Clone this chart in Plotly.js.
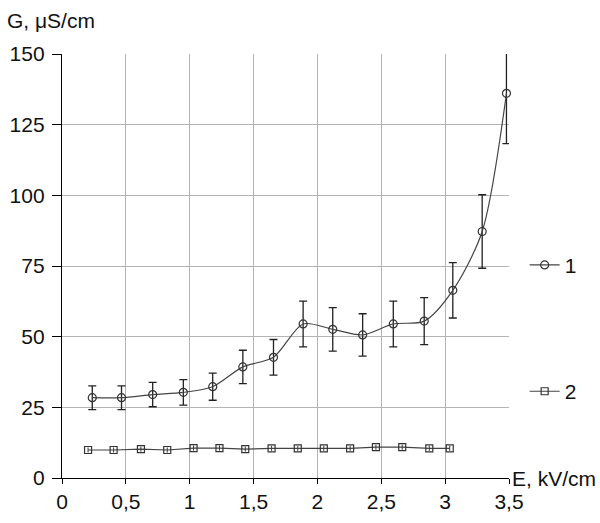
<!DOCTYPE html>
<html>
<head>
<meta charset="utf-8">
<script src="https://cdn.plot.ly/plotly-3.0.1.min.js"></script>
<style>html,body{margin:0;padding:0;background:#fff;}#chart{width:600px;height:523px;}</style>
</head>
<body>
<div id="chart"></div>
<script>
// Series 1 (circles)
const e1 = [0.237, 0.466, 0.71, 0.95, 1.18, 1.416, 1.656, 1.888, 2.12, 2.354, 2.594, 2.836, 3.06, 3.29, 3.48];
const g1 = [28.4, 28.4, 29.5, 30.3, 32.3, 39.3, 42.7, 54.5, 52.6, 50.6, 54.5, 55.5, 66.4, 87.2, 136.1];
const err1 = [4.2, 4.2, 4.3, 4.5, 4.8, 5.9, 6.3, 8.1, 7.7, 7.5, 8.1, 8.3, 9.8, 13.0, 17.8];
// Series 2 (squares)
const e2 = [0.204, 0.404, 0.618, 0.824, 1.03, 1.233, 1.435, 1.641, 1.846, 2.05, 2.256, 2.458, 2.664, 2.876, 3.036];
const g2 = [9.9, 9.9, 10.2, 9.9, 10.6, 10.6, 10.2, 10.5, 10.5, 10.5, 10.5, 10.9, 10.9, 10.5, 10.5];
const err2 = [0.9, 0.9, 0.9, 0.9, 0.9, 0.9, 0.9, 0.9, 0.9, 0.9, 0.9, 0.9, 0.9, 0.9, 0.9];
const seriesNames = ['1', '2'];
const xTicks = [0, 0.5, 1, 1.5, 2, 2.5, 3, 3.5];
const yTicks = [0, 25, 50, 75, 100, 125, 150];

const FONT = 'Liberation Sans, Arial, sans-serif';
const FS = 21;

const traces = [
  {
    x: e1, y: g1, name: seriesNames[0], legendgroup: 'a', cliponaxis: false,
    type: 'scatter', mode: 'lines+markers',
    line: {color: '#444', width: 1.2, shape: 'spline', smoothing: 0.8},
    marker: {symbol: 'circle-open', size: 8, color: '#333', line: {width: 1.2}},
    error_y: {type: 'data', array: err1, visible: true, color: '#222', thickness: 1.3, width: 4}
  },
  {
    x: e2, y: g2, name: seriesNames[1], legendgroup: 'b', cliponaxis: false,
    type: 'scatter', mode: 'lines+markers',
    line: {color: '#444', width: 1.2},
    marker: {symbol: 'square-open', size: 7, color: '#333', line: {width: 1.2}},
    error_y: {type: 'data', array: err2, visible: true, color: '#333', thickness: 1, width: 0}
  }
];

const layout = {
  width: 600, height: 523,
  margin: {l: 62, r: 91, t: 54, b: 45},
  paper_bgcolor: '#fff', plot_bgcolor: '#fff',
  separators: ', ',
  font: {family: FONT, size: FS, color: '#111'},
  showlegend: true,
  legend: {
    x: 1.035, xanchor: 'left', y: 0.55, yanchor: 'top',
    traceorder: 'grouped', tracegroupgap: 96,
    font: {family: FONT, size: FS, color: '#111'},
    bgcolor: 'rgba(0,0,0,0)'
  },
  xaxis: {
    range: [0, 3.5], tickmode: 'array', tickvals: xTicks,
    showgrid: true, gridcolor: '#b4b4b4', gridwidth: 1,
    zeroline: false, showline: true, linecolor: '#000', linewidth: 1.2,
    ticks: 'outside', ticklen: 5, tickcolor: '#000',
    tickfont: {family: FONT, size: FS, color: '#111'},
    fixedrange: true
  },
  yaxis: {
    range: [0, 150], tickmode: 'array', tickvals: yTicks,
    showgrid: true, gridcolor: '#b4b4b4', gridwidth: 1,
    zeroline: false, showline: true, linecolor: '#000', linewidth: 1.2,
    ticks: 'outside', ticklen: 9, tickcolor: '#000',
    ticklabelstandoff: 3,
    tickfont: {family: FONT, size: FS, color: '#111'},
    fixedrange: true
  },
  annotations: [
    {text: 'G, μS/cm', xref: 'paper', yref: 'paper', x: -0.127, y: 1.0, xanchor: 'left', yanchor: 'bottom', yshift: 20, showarrow: false, font: {family: FONT, size: FS, color: '#111'}},
    {text: 'E, kV/cm', xref: 'paper', yref: 'paper', x: 1.0, y: 0, xanchor: 'left', yanchor: 'middle', xshift: 1, showarrow: false, font: {family: FONT, size: FS, color: '#111'}}
  ]
};

Plotly.newPlot('chart', traces, layout, {displayModeBar: false, staticPlot: true});
</script>
</body>
</html>
